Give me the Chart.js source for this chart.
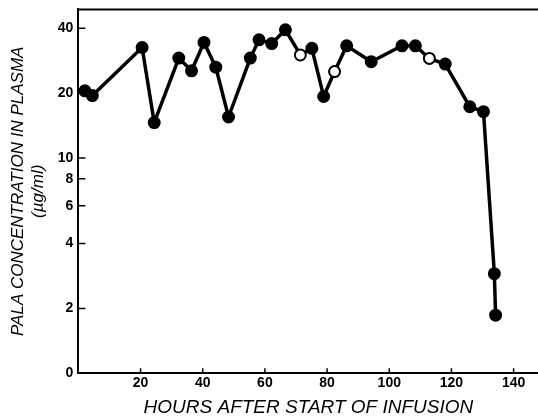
<!DOCTYPE html>
<html>
<head>
<meta charset="utf-8">
<script src="https://cdn.jsdelivr.net/npm/chart.js@4"></script>
<style>
  html, body { margin: 0; padding: 0; background: #fff; overflow: hidden; }
  #wrap { width: 546px; height: 421px; margin-top: -4px; }
</style>
</head>
<body>
<div id="wrap"><canvas id="chart"></canvas></div>
<script>
// values
var hours = [2.1, 4.5, 20.5, 24.4, 32.3, 36.4, 40.4, 44.2, 48.3, 55.3, 58.1, 62.2, 66.6, 71.4,
  75.1, 78.9, 82.4, 86.3, 94.2, 104.1, 108.4, 112.9, 118.0, 125.9, 130.3, 133.8, 134.2];
var conc = [20.5, 19.5, 32.6, 14.6, 29.1, 25.4, 34.4, 26.4, 15.5, 29.1, 35.4, 34.0, 39.4, 30.1,
  32.3, 19.3, 25.2, 33.2, 28.0, 33.2, 33.2, 29.0, 27.3, 17.3, 16.4, 2.9, 1.86];
var hollow = [0, 0, 0, 0, 0, 0, 0, 0, 0, 0, 0, 0, 0, 1,
  0, 0, 1, 0, 0, 0, 0, 1, 0, 0, 0, 0, 0];
var xTicks = [0, 20, 40, 60, 80, 100, 120, 140];
var yTicks = [1, 2, 4, 6, 8, 10, 20, 40];

var points = [];
for (var i = 0; i < hours.length; i++) {
  points.push({ x: hours[i], y: conc[i] });
}

// tick marks point inward, plus the top frame line
var frame = {
  id: "frame",
  afterDraw: function (chart) {
    var ctx = chart.ctx;
    var area = chart.chartArea;
    var xs = chart.scales.x;
    var ys = chart.scales.y;
    ctx.save();
    ctx.strokeStyle = "#000";
    ctx.lineWidth = 1.5;
    ctx.beginPath();
    yTicks.forEach(function (v) {
      if (v === 1) return;
      var py = ys.getPixelForValue(v);
      ctx.moveTo(area.left, py);
      ctx.lineTo(area.left + 7, py);
    });
    xTicks.forEach(function (v) {
      if (v === 0) return;
      var px = xs.getPixelForValue(v);
      ctx.moveTo(px, area.bottom);
      ctx.lineTo(px, area.bottom - 5);
    });
    ctx.stroke();
    ctx.lineWidth = 2;
    ctx.beginPath();
    ctx.moveTo(area.left, area.top);
    ctx.lineTo(chart.width, area.top);
    ctx.stroke();
    ctx.restore();
  }
};

Chart.defaults.font.family = "'Liberation Sans', Arial, sans-serif";
Chart.defaults.color = "#000";

new Chart(document.getElementById("chart"), {
  type: "scatter",
  data: {
    datasets: [{
      data: points,
      showLine: true,
      borderColor: "#000",
      borderWidth: 3.5,
      pointRadius: 5.5,
      pointHoverRadius: 5.5,
      pointBorderWidth: 2,
      pointBorderColor: "#000",
      pointBackgroundColor: hollow.map(function (h) { return h ? "#fff" : "#000"; })
    }]
  },
  options: {
    responsive: true,
    maintainAspectRatio: false,
    animation: false,
    layout: { padding: { left: 8, top: 0, right: 0, bottom: 0 } },
    plugins: { legend: { display: false }, tooltip: { enabled: false } },
    scales: {
      x: {
        type: "linear",
        min: 0,
        max: 148,
        afterBuildTicks: function (s) {
          s.ticks = xTicks.map(function (v) { return { value: v }; });
        },
        grid: { drawOnChartArea: false, drawTicks: false },
        border: { color: "#000", width: 2 },
        ticks: {
          padding: 2,
          font: { size: 14, weight: "bold" },
          callback: function (v) { return v === 0 ? "" : v; }
        },
        title: {
          display: true,
          text: "HOURS AFTER START OF INFUSION",
          font: { size: 19, style: "italic", lineHeight: 1 },
          padding: { top: 4, bottom: 0 }
        }
      },
      y: {
        type: "logarithmic",
        min: 1,
        max: 49,
        afterBuildTicks: function (s) {
          s.ticks = yTicks.map(function (v) { return { value: v }; });
        },
        grid: { drawOnChartArea: false, drawTicks: false },
        border: { color: "#000", width: 2 },
        ticks: {
          padding: 5,
          font: { size: 14, weight: "bold" },
          callback: function (v) { return v === 1 ? "0" : v; }
        },
        title: {
          display: true,
          text: ["PALA CONCENTRATION IN PLASMA", "(\u00b5g/ml)"],
          font: { size: 17, style: "italic" },
          padding: { top: 0, bottom: 4 }
        }
      }
    }
  },
  plugins: [frame]
});
</script>
</body>
</html>
